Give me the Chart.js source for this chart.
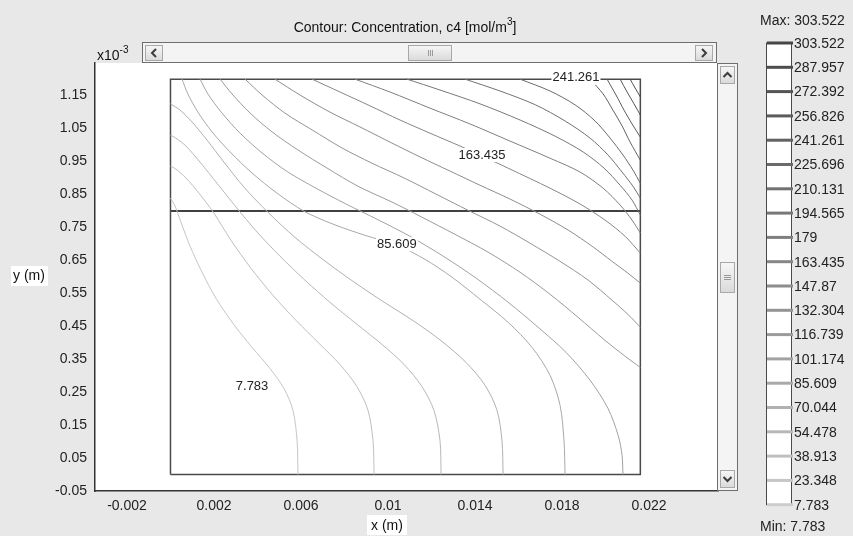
<!DOCTYPE html>
<html>
<head>
<meta charset="utf-8">
<script src="https://cdn.jsdelivr.net/npm/chart.js@4.4.0/dist/chart.umd.min.js"></script>
<style>
  html, body { margin: 0; padding: 0; background: #e8e8e8; }
  canvas { display: block; }
</style>
</head>
<body>
<canvas id="graficoContorno" width="853" height="536"></canvas>
<script>
//  Niveles de contorno de c4 [mol/m3]
const niveles = [7.783, 23.348, 38.913, 54.478, 70.044, 85.609, 101.174, 116.739, 132.304, 147.87,
                 163.435, 179, 194.565, 210.131, 225.696, 241.261, 256.826, 272.392, 287.957, 303.522];

//  Ejes: x en 1e-3 m, y en 1e-3 m
const xTicks = [-2, 2, 6, 10, 14, 18, 22];
const xTickLabels = ["-0.002", "0.002", "0.006", "0.01", "0.014", "0.018", "0.022"];
const yTicks = [-0.05, 0.05, 0.15, 0.25, 0.35, 0.45, 0.55, 0.65, 0.75, 0.85, 0.95, 1.05, 1.15];
const yTickLabels = ["-0.05", "0.05", "0.15", "0.25", "0.35", "0.45", "0.55", "0.65", "0.75", "0.85", "0.95", "1.05", "1.15"];

//  Dominio y corte horizontal
const dominioX = [0, 21.6, 21.6, 0, 0];
const dominioY = [0, 0, 1.2, 1.2, 0];
const corteX = [0, 21.6];
const corteY = [0.8, 0.8];

//  Curvas de nivel (x, y)
const x23 = [5.86, 5.82, 5.63, 5.22, 4.57, 3.75, 2.87, 2.09, 1.45, 0.90, 0.48, 0.21, 0];
const y23 = [0, 0.103, 0.195, 0.261, 0.322, 0.386, 0.459, 0.535, 0.614, 0.693, 0.766, 0.815, 0.839];
const x38 = [9.36, 9.31, 9.08, 8.57, 7.79, 6.83, 5.77, 4.71, 3.70, 2.78, 2.00, 1.31, 0.71, 0.25, 0];
const y38 = [0, 0.103, 0.195, 0.267, 0.334, 0.398, 0.468, 0.544, 0.626, 0.711, 0.793, 0.854, 0.900, 0.927, 0.936];
const x54 = [12.44, 12.39, 12.11, 11.56, 10.74, 9.72, 8.57, 7.38, 6.18, 5.03, 3.98, 3.01, 2.14, 1.36, 0.71, 0.25, 0];
const y54 = [0, 0.103, 0.195, 0.267, 0.334, 0.395, 0.456, 0.520, 0.590, 0.663, 0.736, 0.812, 0.884, 0.948, 0.997, 1.021, 1.030];
const x70 = [15.29, 15.24, 15.01, 14.46, 13.59, 12.48, 11.20, 9.82, 8.44, 7.06, 5.72, 4.48, 3.38, 2.46, 1.68, 0.99, 0.44, 0];
const y70 = [0, 0.103, 0.195, 0.271, 0.340, 0.404, 0.465, 0.523, 0.584, 0.650, 0.720, 0.796, 0.872, 0.948, 1.015, 1.070, 1.106, 1.125];
const x85 = [0.53, 0.80, 1.26, 1.91, 2.74, 3.75, 4.90, 6.14, 7.47, 8.94, 10.41, 11.70, 12.94, 14.23, 15.52, 16.62, 17.45, 17.91, 18.09, 18.14];
const y85 = [1.200, 1.155, 1.100, 1.040, 0.979, 0.915, 0.854, 0.799, 0.760, 0.726, 0.696, 0.653, 0.599, 0.532, 0.462, 0.386, 0.301, 0.210, 0.103, 0];
const x101 = [1.36, 1.72, 2.37, 3.20, 4.21, 5.40, 6.69, 8.07, 9.49, 11.01, 12.53, 14.05, 15.52, 16.90, 18.18, 19.29, 20.11, 20.58, 20.76, 20.80];
const y101 = [1.200, 1.155, 1.097, 1.036, 0.976, 0.918, 0.869, 0.821, 0.775, 0.723, 0.663, 0.596, 0.523, 0.447, 0.371, 0.286, 0.201, 0.119, 0.058, 0];
const x116 = [2.28, 2.83, 3.66, 4.67, 5.86, 7.20, 8.62, 10.18, 11.56, 13.08, 14.60, 16.07, 17.45, 18.74, 19.98, 20.90, 21.60];
const y116 = [1.200, 1.155, 1.097, 1.040, 0.985, 0.930, 0.875, 0.827, 0.781, 0.729, 0.675, 0.614, 0.547, 0.477, 0.407, 0.359, 0.325];
const x132 = [3.43, 4.21, 5.26, 6.51, 7.89, 9.26, 10.74, 12.21, 13.68, 15.15, 16.53, 17.91, 19.20, 20.30, 21.03, 21.60];
const y132 = [1.200, 1.152, 1.097, 1.046, 0.991, 0.945, 0.900, 0.851, 0.802, 0.754, 0.702, 0.647, 0.590, 0.529, 0.486, 0.447];
const x147 = [4.80, 5.95, 7.33, 8.71, 10.18, 11.47, 12.85, 14.23, 15.61, 16.99, 18.28, 19.38, 20.30, 21.03, 21.60];
const y147 = [1.200, 1.152, 1.100, 1.055, 1.006, 0.964, 0.921, 0.878, 0.836, 0.790, 0.742, 0.693, 0.647, 0.611, 0.581];
const x163 = [6.51, 7.79, 9.17, 10.55, 11.93, 13.31, 14.32, 15.61, 17.45, 18.83, 19.98, 20.90, 21.60];
const y163 = [1.200, 1.161, 1.119, 1.076, 1.036, 0.997, 0.967, 0.927, 0.869, 0.821, 0.772, 0.723, 0.672];
const x179 = [8.48, 10.09, 11.93, 13.77, 15.61, 17.45, 18.83, 19.89, 20.67, 21.22, 21.60];
const y179 = [1.200, 1.161, 1.112, 1.064, 1.012, 0.960, 0.918, 0.869, 0.818, 0.772, 0.733];
const x194 = [10.87, 12.39, 14.23, 16.07, 17.68, 18.97, 19.93, 20.67, 21.22, 21.60];
const y194 = [1.200, 1.167, 1.125, 1.076, 1.027, 0.979, 0.930, 0.878, 0.833, 0.787];
const x210 = [13.54, 15.15, 16.78, 18.14, 19.29, 20.11, 20.76, 21.26, 21.60];
const y210 = [1.200, 1.164, 1.122, 1.073, 1.021, 0.970, 0.918, 0.875, 0.839];
const x225 = [16.07, 17.45, 18.60, 19.52, 20.21, 20.80, 21.26, 21.60];
const y225 = [1.200, 1.164, 1.122, 1.073, 1.021, 0.970, 0.924, 0.884];
const x241 = [19.29, 19.89, 20.34, 20.76, 21.13, 21.60];
const y241 = [1.200, 1.155, 1.106, 1.058, 1.009, 0.954];
const x256 = [20.07, 20.48, 20.85, 21.22, 21.60];
const y256 = [1.200, 1.152, 1.106, 1.064, 1.024];
const x272 = [20.67, 20.99, 21.31, 21.60];
const y272 = [1.200, 1.161, 1.125, 1.091];
const x287 = [21.13, 21.36, 21.60];
const y287 = [1.200, 1.173, 1.146];

//  Etiquetas sobre las curvas
const etiquetaTexto = ["241.261", "163.435", "85.609", "7.783"];
const etiquetaX = [18.64, 14.32, 10.41, 3.75];
const etiquetaY = [1.204, 0.970, 0.699, 0.267];

const curvas = [
    { nivel: 23.348, x: x23, y: y23 }, { nivel: 38.913, x: x38, y: y38 },
    { nivel: 54.478, x: x54, y: y54 }, { nivel: 70.044, x: x70, y: y70 },
    { nivel: 85.609, x: x85, y: y85 }, { nivel: 101.174, x: x101, y: y101 },
    { nivel: 116.739, x: x116, y: y116 }, { nivel: 132.304, x: x132, y: y132 },
    { nivel: 147.87, x: x147, y: y147 }, { nivel: 163.435, x: x163, y: y163 },
    { nivel: 179, x: x179, y: y179 }, { nivel: 194.565, x: x194, y: y194 },
    { nivel: 210.131, x: x210, y: y210 }, { nivel: 225.696, x: x225, y: y225 },
    { nivel: 241.261, x: x241, y: y241 }, { nivel: 256.826, x: x256, y: y256 },
    { nivel: 272.392, x: x272, y: y272 }, { nivel: 287.957, x: x287, y: y287 }
];

const FUENTE = "'Liberation Sans', Arial, sans-serif";

//  Gris segun el nivel: claro abajo, oscuro arriba
function grisNivel(valor) {
    const i = niveles.indexOf(valor);
    const g = Math.round(205 - i * (205 - 70) / (niveles.length - 1));
    return `rgb(${g},${g},${g})`;
}

function puntos(xs, ys) {
    return xs.map((x, i) => ({ x: x, y: ys[i] }));
}

const datasets = curvas.map(c => ({
    data: puntos(c.x, c.y),
    showLine: true,
    borderColor: grisNivel(c.nivel),
    borderWidth: 1,
    pointRadius: 0,
    tension: 0.3,
    fill: false
}));
datasets.push({ data: puntos(dominioX, dominioY), showLine: true, borderColor: "#4a4a4a", borderWidth: 1.5, pointRadius: 0, tension: 0 });
datasets.push({ data: puntos(corteX, corteY), showLine: true, borderColor: "#000000", borderWidth: 1.5, pointRadius: 0, tension: 0 });

//  Utilidades de dibujo para barras de desplazamiento
function boton(ctx, x, y, w, h) {
    const grad = ctx.createLinearGradient(0, y, 0, y + h);
    grad.addColorStop(0, "#f7f7f7");
    grad.addColorStop(1, "#d9d9d9");
    ctx.fillStyle = grad;
    ctx.fillRect(x, y, w, h);
    ctx.strokeStyle = "#a8a8a8";
    ctx.lineWidth = 1;
    ctx.strokeRect(x + 0.5, y + 0.5, w - 1, h - 1);
}

function flecha(ctx, cx, cy, dir) {
    ctx.strokeStyle = "#3c3c3c";
    ctx.lineWidth = 2;
    ctx.beginPath();
    if (dir === "izq") { ctx.moveTo(cx + 2, cy - 4); ctx.lineTo(cx - 2, cy); ctx.lineTo(cx + 2, cy + 4); }
    if (dir === "der") { ctx.moveTo(cx - 2, cy - 4); ctx.lineTo(cx + 2, cy); ctx.lineTo(cx - 2, cy + 4); }
    if (dir === "arr") { ctx.moveTo(cx - 4, cy + 2); ctx.lineTo(cx, cy - 2); ctx.lineTo(cx + 4, cy + 2); }
    if (dir === "aba") { ctx.moveTo(cx - 4, cy - 2); ctx.lineTo(cx, cy + 2); ctx.lineTo(cx + 4, cy - 2); }
    ctx.stroke();
}

const decoracion = {
    id: "decoracion",
    beforeDraw(chart) {
        const { ctx, chartArea: a } = chart;
        ctx.save();
        ctx.fillStyle = "#e8e8e8";
        ctx.fillRect(0, 0, chart.width, chart.height);
        ctx.fillStyle = "#ffffff";
        ctx.fillRect(a.left, a.top, a.right - a.left, a.bottom - a.top);
        ctx.restore();
    },
    afterDraw(chart) {
        const { ctx, chartArea: a, scales } = chart;
        ctx.save();

        //  Titulo
        ctx.fillStyle = "#111";
        ctx.textBaseline = "middle";
        ctx.font = `14px ${FUENTE}`;
        const t1 = "Contour: Concentration, c4 [mol/m";
        const w1 = ctx.measureText(t1).width;
        ctx.font = `10px ${FUENTE}`;
        const w2 = ctx.measureText("3").width;
        ctx.font = `14px ${FUENTE}`;
        const w3 = ctx.measureText("]").width;
        let tx = 405 - (w1 + w2 + w3) / 2;
        ctx.textAlign = "left";
        ctx.fillText(t1, tx, 28);
        ctx.font = `10px ${FUENTE}`;
        ctx.fillText("3", tx + w1, 22);
        ctx.font = `14px ${FUENTE}`;
        ctx.fillText("]", tx + w1 + w2, 28);

        //  Factor de escala del eje y
        ctx.fillText("x10", 97, 56);
        const wx = ctx.measureText("x10").width;
        ctx.font = `10px ${FUENTE}`;
        ctx.fillText("-3", 97 + wx, 50);

        //  Barra horizontal
        ctx.fillStyle = "#f4f4f4";
        ctx.fillRect(142, 42, 575, 21);
        ctx.strokeStyle = "#6e6e6e";
        ctx.lineWidth = 1;
        ctx.strokeRect(142.5, 42.5, 574, 20);
        boton(ctx, 145, 45, 18, 16);
        flecha(ctx, 154, 53, "izq");
        boton(ctx, 695, 45, 18, 16);
        flecha(ctx, 704, 53, "der");
        boton(ctx, 408, 45, 44, 16);
        ctx.strokeStyle = "#9a9a9a";
        for (let k = -2; k <= 2; k += 2) {
            ctx.beginPath(); ctx.moveTo(430.5 + k, 50); ctx.lineTo(430.5 + k, 56); ctx.stroke();
        }

        //  Barra vertical
        ctx.fillStyle = "#f4f4f4";
        ctx.fillRect(717, 63, 21, 428);
        ctx.strokeStyle = "#6e6e6e";
        ctx.strokeRect(717.5, 63.5, 20, 427);
        boton(ctx, 720, 66, 15, 18);
        flecha(ctx, 727.5, 75, "arr");
        boton(ctx, 720, 262, 15, 31);
        ctx.strokeStyle = "#9a9a9a";
        for (let k = -2; k <= 2; k += 2) {
            ctx.beginPath(); ctx.moveTo(724, 277.5 + k); ctx.lineTo(731, 277.5 + k); ctx.stroke();
        }
        boton(ctx, 720, 470, 15, 18);
        flecha(ctx, 727.5, 479, "aba");

        //  Etiquetas de los ejes
        ctx.font = `14px ${FUENTE}`;
        ctx.textAlign = "center";
        ctx.fillStyle = "#ffffff";
        ctx.fillRect(367, 515, 40, 20);
        ctx.fillStyle = "#111";
        ctx.fillText("x (m)", 387, 526);
        ctx.fillStyle = "#ffffff";
        ctx.fillRect(11, 266, 37, 20);
        ctx.save();
        ctx.beginPath();
        ctx.rect(11, 266, 33, 20);
        ctx.clip();
        ctx.fillStyle = "#111";
        ctx.textAlign = "left";
        ctx.fillText("y (m)", 13, 276);
        ctx.restore();

        //  Etiquetas de valores sobre las curvas
        ctx.font = `13px ${FUENTE}`;
        ctx.textAlign = "center";
        etiquetaTexto.forEach((txt, i) => {
            const px = scales.x.getPixelForValue(etiquetaX[i]);
            const py = scales.y.getPixelForValue(etiquetaY[i]);
            const w = ctx.measureText(txt).width;
            ctx.fillStyle = "#ffffff";
            ctx.fillRect(px - w / 2 - 1, py - 7, w + 2, 14);
            ctx.fillStyle = "#222";
            ctx.fillText(txt, px, py);
        });

        //  Leyenda de niveles
        const lx = 766, lw = 25, top = 43, paso = 24.3;
        const abajo = top + paso * (niveles.length - 1);
        ctx.fillStyle = "#ffffff";
        ctx.fillRect(lx, top, lw, abajo - top);
        ctx.strokeStyle = "#4a4a4a";
        ctx.lineWidth = 1;
        ctx.strokeRect(lx + 0.5, top, lw, abajo - top);
        ctx.font = `14px ${FUENTE}`;
        ctx.textAlign = "left";
        niveles.slice().reverse().forEach((v, k) => {
            const yy = top + paso * k;
            ctx.strokeStyle = grisNivel(v);
            ctx.lineWidth = 3;
            ctx.beginPath();
            ctx.moveTo(lx + 1, yy);
            ctx.lineTo(lx + lw + 2, yy);
            ctx.stroke();
            ctx.fillStyle = "#222";
            ctx.fillText(String(v), 794, yy + 1);
        });
        ctx.fillText("Max: " + niveles[niveles.length - 1], 760, 21);
        ctx.fillText("Min: " + niveles[0], 760, 527);

        ctx.restore();
    }
};

const ctx = document.getElementById("graficoContorno").getContext("2d");
new Chart(ctx, {
    type: "scatter",
    data: { datasets: datasets },
    plugins: [decoracion],
    options: {
        responsive: false,
        animation: false,
        devicePixelRatio: 1,
        layout: { padding: { top: 63, right: 135, bottom: 0, left: 0 } },
        plugins: { legend: { display: false }, tooltip: { enabled: false } },
        scales: {
            x: {
                type: "linear",
                min: -3.47,
                max: 25.17,
                afterBuildTicks: s => { s.ticks = xTicks.map(v => ({ value: v })); },
                afterFit: s => { s.height = 45; },
                grid: { display: false, drawTicks: false },
                border: { display: true, color: "#333", width: 1.5 },
                ticks: {
                    autoSkip: false, maxRotation: 0, padding: 7,
                    color: "#222", font: { family: FUENTE, size: 14 },
                    callback: (v, i) => xTickLabels[i]
                }
            },
            y: {
                type: "linear",
                min: -0.05,
                max: 1.249,
                afterBuildTicks: s => { s.ticks = yTicks.map(v => ({ value: v })); },
                afterFit: s => { s.width = 95; },
                grid: { display: false, drawTicks: false },
                border: { display: true, color: "#333", width: 1.5 },
                ticks: {
                    autoSkip: false, padding: 8,
                    color: "#222", font: { family: FUENTE, size: 14 },
                    callback: (v, i) => yTickLabels[i]
                }
            }
        }
    }
});
</script>
</body>
</html>
